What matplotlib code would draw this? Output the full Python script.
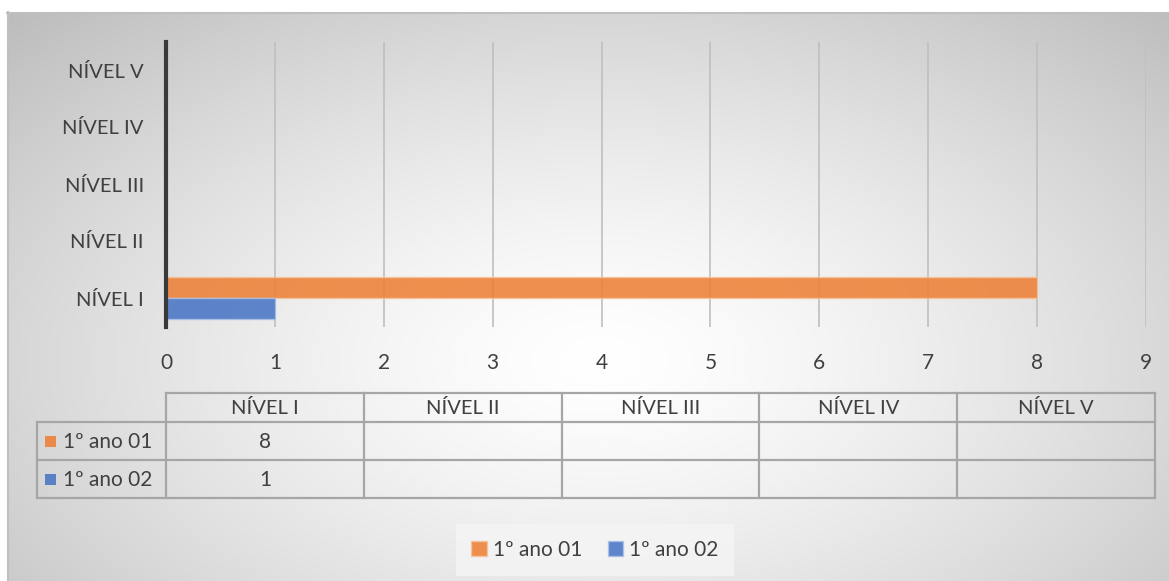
import numpy as np
import matplotlib.pyplot as plt
from matplotlib.patches import Rectangle

plt.rcParams['font.family'] = ['Lato', 'DejaVu Sans']

# dados
niveis = ["NÍVEL I", "NÍVEL II", "NÍVEL III", "NÍVEL IV", "NÍVEL V"]
series = ["1º ano 01", "1º ano 02"]
ano01 = [8, None, None, None, None]
ano02 = [1, None, None, None, None]
cores = ["#ED7D31", "#4472C4"]
xticks = list(range(0, 10))

W, H = 1169, 581
fig = plt.figure(figsize=(W / 100, H / 100), dpi=100)
fig.patch.set_facecolor("white")

# fundo com gradiente radial (coordenadas em pixels)
bg = fig.add_axes([0, 0, 1, 1])
bg.set_xlim(0, W)
bg.set_ylim(H, 0)
bg.axis("off")
yy, xx = np.mgrid[12:H, 7:W]
r = np.sqrt(((xx - 600) / 760.0) ** 2 + ((yy - 360) / 440.0) ** 2)
val = 255 - 58 * np.clip(r, 0, 1.15) ** 1.4
img = np.dstack([val, val, val]).astype(np.uint8)
bg.imshow(img, extent=[7, W, H, 12], aspect="auto", interpolation="bilinear")
bg.plot([7, W], [12.5, 12.5], color="#bfbfbf", lw=1.5)
bg.plot([7.5, 7.5], [12, H], color="#bfbfbf", lw=1.5)

# tabela de dados
cx = [166, 363.8, 561.6, 759.4, 957.2, 1155]
ry = [393, 422, 460, 498]
lc = "#a6a6a6"
for x in cx:
    bg.plot([x, x], [ry[0], ry[-1]], color=lc, lw=1.6)
bg.plot([37, 37], [ry[1], ry[-1]], color=lc, lw=1.6)
bg.plot([cx[0], cx[-1]], [ry[0], ry[0]], color=lc, lw=1.6)
for y in ry[1:]:
    bg.plot([37, cx[-1]], [y, y], color=lc, lw=1.6)
tc = "#404040"
fs = 14.5
for i, nv in enumerate(niveis):
    bg.text((cx[i] + cx[i + 1]) / 2, (ry[0] + ry[1]) / 2 + 1, nv, ha="center", va="center",
            fontsize=fs, color=tc)
for j, vals in enumerate([ano01, ano02]):
    yc = (ry[j + 1] + ry[j + 2]) / 2
    bg.add_patch(Rectangle((45, yc - 5.5), 11, 11, facecolor=cores[j], alpha=0.85, edgecolor="none"))
    bg.text(63, yc + 1, series[j], ha="left", va="center", fontsize=fs + 0.5, color=tc)
    for i, v in enumerate(vals):
        if v is not None:
            bg.text((cx[i] + cx[i + 1]) / 2, yc + 1, str(v), ha="center", va="center",
                    fontsize=fs + 0.5, color=tc)

# eixo principal
left, right = 166 / W, 1146 / W
top, bottom = 41.5 / H, 326.5 / H
ax = fig.add_axes([left, 1 - bottom, right - left, bottom - top])
ax.patch.set_alpha(0)
y = np.arange(len(niveis))
h = 0.37
v1 = [v if v is not None else 0 for v in ano01]
v2 = [v if v is not None else 0 for v in ano02]
ax.barh(y + h / 2, v1, height=h, color=cores[0], alpha=0.85, edgecolor="#f7c3a0",
        linewidth=1, label=series[0], zorder=3)
ax.barh(y - h / 2, v2, height=h, color=cores[1], alpha=0.85, edgecolor="#a9c0e8",
        linewidth=1, label=series[1], zorder=3)
ax.set_xlim(0, 9)
ax.set_ylim(-0.5, len(niveis) - 0.5)
ax.set_xticks(xticks)
ax.set_xticklabels([str(t) for t in xticks], fontsize=fs + 0.5, color=tc)
ax.set_yticks(y)
ax.set_yticklabels(niveis, fontsize=fs, color=tc)
ax.tick_params(axis="both", length=0)
ax.tick_params(axis="x", pad=19)
ax.tick_params(axis="y", pad=16)
ax.grid(axis="x", color="#bfbfbf", lw=1.2, zorder=0)
for s in ["top", "right", "bottom"]:
    ax.spines[s].set_visible(False)
ax.spines["left"].set_color("#3a3a3a")
ax.spines["left"].set_linewidth(3)
ax.spines["left"].set_zorder(4)

# legenda
leg = fig.legend(loc="center", bbox_to_anchor=(595 / W, 1 - 550 / H), ncol=2, frameon=True,
                 fontsize=fs + 0.5, handlelength=0.75, handleheight=0.75, handletextpad=0.3,
                 columnspacing=1.2, borderpad=0.75, borderaxespad=0, fancybox=False)
leg.get_frame().set_facecolor("#f5f5f5")
leg.get_frame().set_edgecolor("none")
for t in leg.get_texts():
    t.set_color(tc)

fig.savefig("out.png", dpi=100)
